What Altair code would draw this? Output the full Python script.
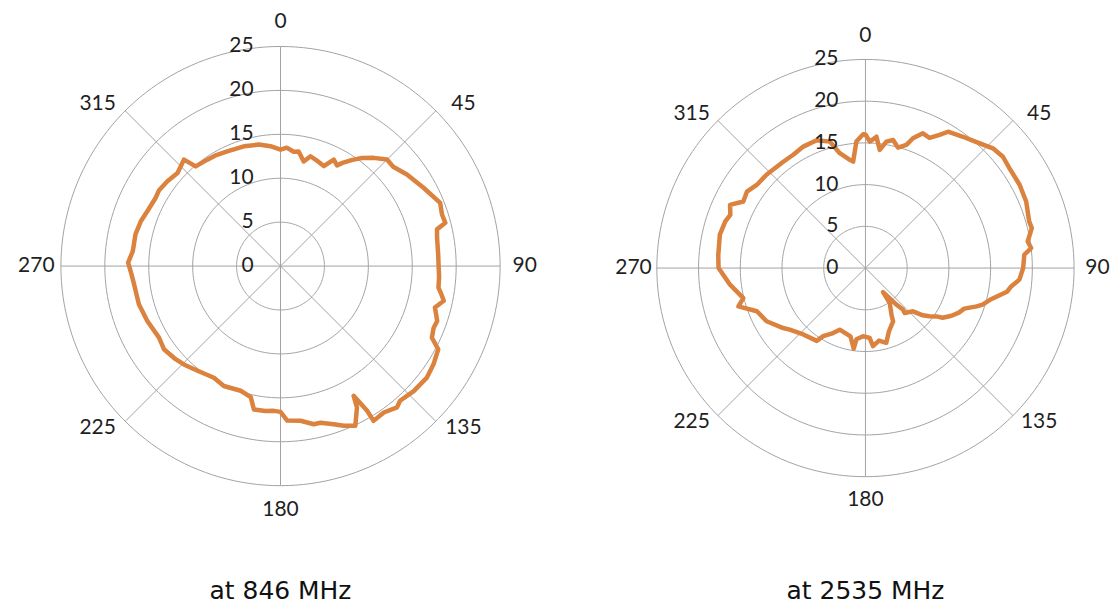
import altair as alt
import pandas as pd

# ---- data ----
L_ANGLE = [0, 3, 6.6, 9, 12.5, 15.3, 19, 23.4, 26.6, 29.3, 31, 34.1, 37, 40.7, 45, 48.6, 54.1, 61.3, 68.4, 72.3,
           75.3, 76.8, 80, 85.8, 90, 94, 97.8, 100, 102, 105, 109.3, 112, 115.3, 117.8, 122.7, 127.3, 133.2, 138.4,
           140.5, 144.8, 149, 149.1, 150.6, 151.6, 154.9, 158.4, 161.4, 165.7, 168.1, 172.6, 177.5, 180, 182.6, 186,
           190.5, 192.8, 197.7, 205.3, 210.8, 218.4, 224.5, 229, 234.5, 239.5, 247.6, 254.9, 262.9, 267, 271.3, 275.8,
           282.3, 287.8, 292.4, 298.7, 302, 306.9, 312.1, 317.8, 319.6, 325.5, 330, 335.1, 343, 349.9, 355.2, 360]
L_VALUE = [13.26, 13.5, 13.1, 13.2, 12.2, 12.96, 12.7, 12.4, 13.55, 13.15, 13.7, 14.6, 15.4, 16.25, 17.15, 17.1, 17.77,
           18.56, 19.55, 19.3, 19.4, 18.3, 18.1, 18.0, 18.0, 18.1, 18.15, 18.6, 19.0, 18.2, 18.9, 18.8, 19.06, 20.3,
           20.7, 20.95, 20.8, 20.5, 20.85, 20.4, 20.56, 19.2, 16.96, 18.3, 20.08, 19.55, 19.0, 18.4, 18.4, 17.76, 17.6,
           16.6, 16.5, 16.6, 16.6, 15.3, 14.9, 15.1, 14.8, 15.2, 15.7, 16.0, 16.3, 16.05, 16.4, 16.7, 16.8, 17.0, 17.35,
           16.9, 16.9, 16.7, 16.4, 16.2, 16.3, 16.1, 15.8, 16.36, 14.9, 14.7, 14.6, 14.4, 14.26, 14.05, 13.7, 13.26]

R_ANGLE = [0, 2, 4.8, 6.9, 9.4, 12.2, 15.1, 18.4, 20.1, 23.1, 26.2, 29.1, 31.2, 36.6, 41.2, 46.8, 51, 55.3, 61.6, 67.5,
           74.1, 76.5, 80.7, 83.1, 85.2, 90, 94.3, 97.2, 99.5, 104.3, 107.3, 109, 112.3, 115.5, 119, 122.8, 124.2, 127,
           129.5, 132.3, 138.9, 137.9, 139.7, 143.7, 145.2, 150.8, 152.6, 159.6, 164.4, 169.4, 174.5, 176.5, 182,
           187.2, 188.3, 192.4, 202.6, 206.5, 211.8, 213.8, 223.1, 230.9, 233.9, 241.7, 248.3, 253.2, 256.2, 263, 270,
           274.8, 282.9, 288.4, 291.5, 295, 298.6, 302.8, 307.4, 313.3, 322.3, 327.5, 332.9, 339.1, 344.3, 347.4, 351.8,
           353.4, 355.9, 359, 360]
R_VALUE = [16.0, 15.16, 15.8, 14.26, 15.36, 15.7, 14.95, 15.55, 16.56, 17.56, 17.4, 18.26, 19.1, 19.6, 20.1, 20.96,
           21.2, 21.0, 21.0, 20.85, 20.4, 20.5, 19.7, 20.0, 19.1, 18.9, 18.5, 17.6, 17.2, 15.4, 14.7, 14.1, 12.8, 12.4,
           11.8, 11.0, 10.3, 9.6, 8.9, 7.7, 7.15, 6.7, 5.74, 3.56, 5.1, 6.4, 7.2, 8.08, 9.3, 8.84, 9.4, 8.4, 8.17, 8.6,
           9.75, 8.37, 8.0, 8.7, 9.6, 10.5, 10.9, 11.7, 12.2, 13.45, 14.0, 15.9, 15.07, 16.35, 17.6, 17.7, 17.9, 17.7,
           17.4, 17.9, 16.67, 16.9, 16.4, 16.3, 16.1, 16.1, 16.35, 16.4, 15.74, 14.1, 13.1, 12.84, 15.2, 16.03, 16.0]

RING_VALUES = [5, 10, 15, 20, 25]
RADIAL_TICKS = [0, 5, 10, 15, 20, 25]
SPOKE_ANGLES = [0, 45, 90, 135]
ANGLE_TICKS = [0, 45, 90, 135, 180, 225, 270, 315]
TITLES = ["at 846 MHz", "at 2535 MHz"]

# ---- styling ----
RMAX = 25
LABEL_R = 27.8
DIAG_SHIFT = 3.5  # diagonal labels sit slightly toward the horizontal axis
GRID = "#a3a3a3"
LINE = "#da823e"
TXT = "#1f1f1f"
TICK_FONT = "Lato"
TICK_SIZE = 21
TITLE_FONT = "DejaVu Sans"
VIEW_H = 562
RING_STEP = 2  # sampling step (degrees) used to trace the grid circles

ring_rows = [{"r": r, "t": t} for r in RING_VALUES for t in range(0, 361, RING_STEP)]


def panel(angles, values, title, ppu, w, h, cx, cy):
    xs = alt.Scale(domain=[-cx / ppu, (w - cx) / ppu], nice=False, zero=False)
    ys = alt.Scale(domain=[-(h - cy) / ppu, cy / ppu], nice=False, zero=False)

    rings = alt.Chart(pd.DataFrame(ring_rows)).transform_calculate(
        gx="datum.r * sin(datum.t * PI / 180)",
        gy="datum.r * cos(datum.t * PI / 180)",
    ).mark_line(color=GRID, strokeWidth=1).encode(
        x=alt.X("gx:Q", scale=xs, axis=None),
        y=alt.Y("gy:Q", scale=ys, axis=None),
        detail="r:N",
        order="t:Q",
    )

    spokes = alt.Chart(pd.DataFrame({"a": SPOKE_ANGLES})).transform_calculate(
        sx1=f"{RMAX} * sin(datum.a * PI / 180)",
        sy1=f"{RMAX} * cos(datum.a * PI / 180)",
        sx2=f"-{RMAX} * sin(datum.a * PI / 180)",
        sy2=f"-{RMAX} * cos(datum.a * PI / 180)",
    ).mark_rule(color=GRID, strokeWidth=1).encode(
        x=alt.X("sx1:Q", scale=xs, axis=None),
        y=alt.Y("sy1:Q", scale=ys, axis=None),
        x2="sx2:Q",
        y2="sy2:Q",
    )

    curve_df = pd.DataFrame({"angle": angles, "value": values, "i": list(range(len(angles)))})
    curve = alt.Chart(curve_df).transform_calculate(
        px="datum.value * sin(datum.angle * PI / 180)",
        py="datum.value * cos(datum.angle * PI / 180)",
    ).mark_line(color=LINE, strokeWidth=4.5, strokeJoin="round", strokeCap="round").encode(
        x=alt.X("px:Q", scale=xs, axis=None),
        y=alt.Y("py:Q", scale=ys, axis=None),
        order="i:Q",
    )

    rlabels = alt.Chart(pd.DataFrame({"v": RADIAL_TICKS})).mark_text(
        align="right", baseline="middle", dx=-27, font=TICK_FONT, fontSize=TICK_SIZE, color=TXT
    ).encode(
        x=alt.XDatum(0, type="quantitative", scale=xs, axis=None),
        y=alt.Y("v:Q", scale=ys, axis=None),
        text=alt.Text("v:Q"),
    )

    alabels = alt.Chart(pd.DataFrame({"a": ANGLE_TICKS})).transform_calculate(
        la=f"datum.a % 90 == 0 ? datum.a : (datum.a % 180 == 45 ? datum.a + {DIAG_SHIFT} : datum.a - {DIAG_SHIFT})",
    ).transform_calculate(
        lx=f"{LABEL_R} * sin(datum.la * PI / 180)",
        ly=f"{LABEL_R} * cos(datum.la * PI / 180)",
    ).mark_text(
        align="center", baseline="middle", font=TICK_FONT, fontSize=TICK_SIZE, color=TXT
    ).encode(
        x=alt.X("lx:Q", scale=xs, axis=None),
        y=alt.Y("ly:Q", scale=ys, axis=None),
        text=alt.Text("a:Q"),
    )

    return alt.layer(rings, spokes, curve, rlabels, alabels).properties(
        width=w, height=h,
        title=alt.TitleParams(title, orient="bottom", anchor="middle", frame="group", offset=9,
                              font=TITLE_FONT, fontSize=25, fontWeight="normal", color="#111111"),
    )


left = panel(L_ANGLE, L_VALUE, TITLES[0], 8.8, 544, VIEW_H, 272, 257)
right = panel(R_ANGLE, R_VALUE, TITLES[1], 8.36, 490, VIEW_H, 245, 259)

chart = alt.hconcat(left, right, spacing=69, bounds="flush").properties(
    padding=0
).configure_view(stroke="transparent")

chart.save("out.html", embed_options={"renderer": "svg", "actions": False})
